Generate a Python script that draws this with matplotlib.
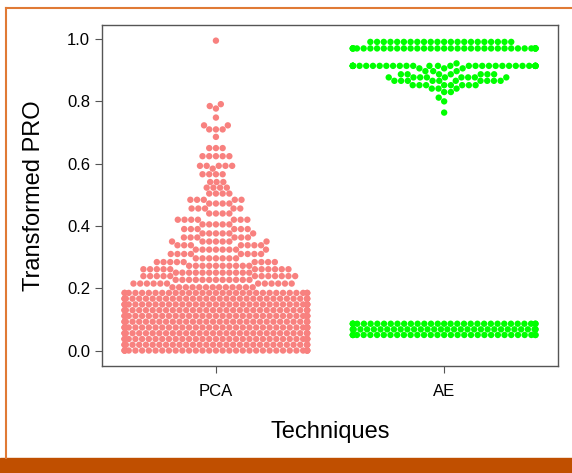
import numpy as np
import pandas as pd
import matplotlib
matplotlib.use("Agg")
import matplotlib.pyplot as plt
import seaborn as sns
from matplotlib.lines import Line2D
from matplotlib.patches import Rectangle

pca_levels = [0.000, 0.0185, 0.037, 0.0555, 0.074, 0.0925, 0.111, 0.1295,
              0.148, 0.1665, 0.185,
              0.203, 0.215, 0.227, 0.239, 0.250, 0.261, 0.272, 0.284, 0.296,
              0.310, 0.324, 0.338, 0.350, 0.363, 0.376, 0.390, 0.405, 0.420,
              0.440, 0.456, 0.472, 0.484, 0.504, 0.523, 0.541, 0.566, 0.584,
              0.593, 0.624, 0.650, 0.686, 0.710, 0.723, 0.748, 0.777, 0.785,
              0.791, 0.995]
pca_counts = [33, 33, 33, 33, 33, 33, 33, 33,
              33, 33, 31,
              13, 12, 12, 12, 12, 11, 10, 9, 7,
              8, 8, 7, 7, 6, 6, 6, 5, 7,
              4, 5, 4, 5, 4, 4, 3, 4, 1,
              5, 5, 3, 1, 3, 2, 1, 1, 1,
              1, 1]

# AE: two clusters, near 0.07 and near 0.9
ae_levels = [0.050, 0.068, 0.086,
             0.764, 0.800, 0.812, 0.830, 0.841, 0.852, 0.866, 0.877, 0.887,
             0.897, 0.906, 0.914, 0.922, 0.970, 0.991]
ae_counts = [32, 32, 32,
             1, 1, 1, 2, 3, 8, 10, 9, 7,
             3, 3, 33, 1, 35, 22]

techniques = ["PCA", "AE"]
colors = {"PCA": "#F8817F", "AE": "#00FF00"}

df = pd.DataFrame({
    "Techniques": ["PCA"] * sum(pca_counts) + ["AE"] * sum(ae_counts),
    "Transformed PRO": np.concatenate([np.repeat(pca_levels, pca_counts),
                                       np.repeat(ae_levels, ae_counts)]),
})

fig = plt.figure(figsize=(5.72, 4.73), dpi=100)
ax = fig.add_axes([0.178, 0.226, 0.798, 0.721])

sns.swarmplot(data=df, x="Techniques", y="Transformed PRO", order=techniques,
              hue="Techniques", palette=colors, legend=False, size=4.6,
              linewidth=0, ax=ax, warn_thresh=1.0)

ax.set_xlim(-0.5, 1.5)
ax.set_ylim(-0.05, 1.045)
ax.set_yticks([0.0, 0.2, 0.4, 0.6, 0.8, 1.0])
ax.set_yticklabels(["0.0", "0.2", "0.4", "0.6", "0.8", "1.0"])
for s in ax.spines.values():
    s.set_color("#555555")
    s.set_linewidth(1.0)
ax.tick_params(colors="#555555", labelcolor="black", labelsize=12, length=5)
ax.tick_params(axis="x", pad=8)
for lab in ax.get_xticklabels() + ax.get_yticklabels():
    lab.set_family(["Liberation Sans", "DejaVu Sans"])

ax.set_xlabel("Techniques", fontsize=17, labelpad=16,
              family=["Liberation Sans", "DejaVu Sans"])
ax.set_ylabel("Transformed PRO", fontsize=17, labelpad=16,
              family=["Liberation Sans", "DejaVu Sans"])

# orange frame of the figure panel
fig.add_artist(Line2D([6 / 572, 6 / 572], [15 / 473, 1 - 8 / 473],
                      color="#E07A35", lw=1.5, transform=fig.transFigure))
fig.add_artist(Line2D([6 / 572, 1.0], [1 - 8 / 473, 1 - 8 / 473],
                      color="#E07A35", lw=1.5, transform=fig.transFigure))
fig.add_artist(Rectangle((0, 0), 1, 15 / 473, color="#C04F00",
                         transform=fig.transFigure))

fig.savefig("out.png", dpi=100)
